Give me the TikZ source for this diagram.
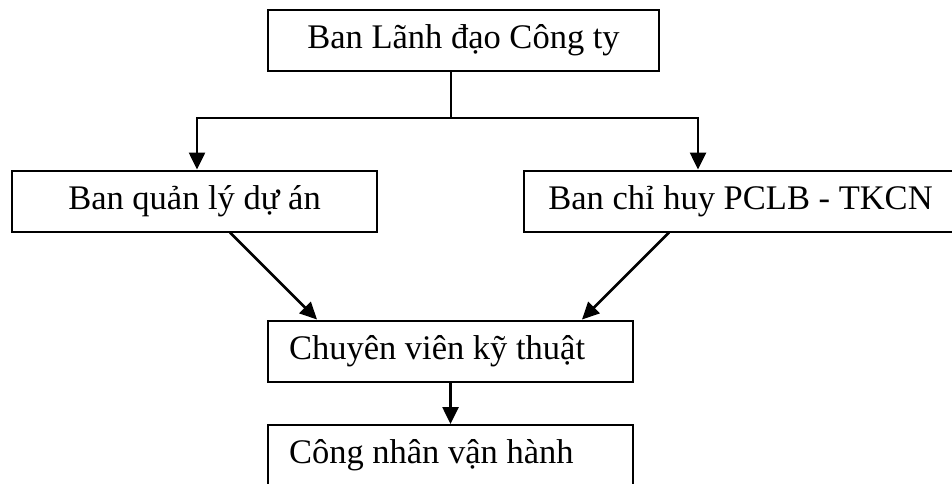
\documentclass[tikz,border=0pt]{standalone}
\usepackage{fontspec}
\setmainfont{Liberation Serif}
\usetikzlibrary{arrows.meta}
\begin{document}
\begin{tikzpicture}[x=1pt,y=-1pt,
  box/.style={draw,line width=2pt,minimum height=61pt,inner sep=0pt,font=\fontsize{34.5}{40}\selectfont},
  lbox/.style={box,inner xsep=21pt,text width=323pt,align=flush left},
  arr/.style={line width=2.6pt,-{Triangle[length=17pt,width=16pt]}},
  ln/.style={line width=2.6pt}]
\useasboundingbox (0,0) rectangle (952,484);
\node[box,minimum width=391pt] (top) at (463.5,40.5) {Ban Lãnh đạo Công ty};
\node[box,minimum width=365pt] (ql) at (194.5,201) {Ban quản lý dự án};
\node[box,minimum width=433pt] (ch) at (740.5,201) {Ban chỉ huy PCLB - TKCN};
\node[lbox] (cv) at (450.5,351) {Chuyên viên kỹ thuật};
\node[lbox] (cn) at (450.5,455.5) {Công nhân vận hành};
\coordinate (j) at (451,118);
\coordinate (xl) at (197,0);
\coordinate (xr) at (698,0);
\coordinate (d1) at (230,0);
\coordinate (d1e) at (317,0);
\coordinate (d2) at (669,0);
\coordinate (d2e) at (582,0);
\draw[ln] (top.south -| j) -- (j);
\draw[arr] (j) -| (ql.north -| xl);
\draw[arr] (j) -| (ch.north -| xr);
\draw[arr] (ql.south -| d1) -- (cv.north -| d1e);
\draw[arr] (ch.south -| d2) -- (cv.north -| d2e);
\draw[arr] (cv.south) -- (cn.north);
\end{tikzpicture}
\end{document}
